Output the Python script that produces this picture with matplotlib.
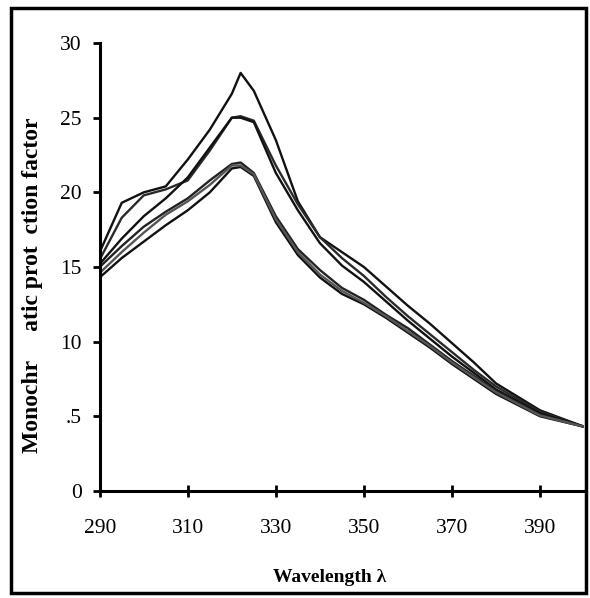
import matplotlib
matplotlib.use("Agg")
import matplotlib.pyplot as plt
from matplotlib.patches import Rectangle

# wavelengths (nm)
wl = [290, 295, 300, 305, 310, 315, 320, 322, 325, 330, 335, 340, 345, 350, 355, 360, 365, 370, 375, 380, 390, 400]

series_a = [16.0, 19.3, 20.0, 20.4, 22.2, 24.2, 26.6, 28.0, 26.8, 23.5, 19.4, 17.0, 16.0, 15.0, 13.7, 12.4, 11.2, 9.9, 8.6, 7.2, 5.4, 4.3]
series_b = [15.5, 18.3, 19.8, 20.2, 20.8, 22.8, 25.0, 25.1, 24.8, 21.8, 19.2, 17.0, 15.6, 14.4, 13.0, 11.7, 10.5, 9.3, 8.1, 7.0, 5.3, 4.3]
series_c = [15.2, 16.9, 18.4, 19.6, 21.0, 23.0, 25.0, 25.0, 24.7, 21.3, 18.8, 16.6, 15.1, 14.0, 12.7, 11.4, 10.2, 9.0, 7.9, 6.8, 5.2, 4.3]
series_d = [15.0, 16.4, 17.7, 18.7, 19.6, 20.8, 21.9, 22.0, 21.3, 18.4, 16.2, 14.8, 13.6, 12.8, 11.8, 10.9, 9.8, 8.7, 7.7, 6.7, 5.1, 4.3]
series_e = [14.3, 15.6, 16.7, 17.8, 18.8, 20.0, 21.6, 21.7, 21.1, 18.0, 15.8, 14.3, 13.2, 12.5, 11.6, 10.6, 9.6, 8.5, 7.5, 6.5, 5.0, 4.3]
series_f = [14.6, 16.0, 17.3, 18.5, 19.4, 20.5, 21.8, 21.8, 21.2, 18.2, 16.0, 14.5, 13.4, 12.6, 11.7, 10.7, 9.7, 8.6, 7.6, 6.6, 5.05, 4.3]

all_series = [series_a, series_b, series_c, series_d, series_e, series_f]
line_colors = ["#111111", "#2a2a2a", "#111111", "#222222", "#111111", "#555555"]

xticks = [290, 310, 330, 350, 370, 390]
yticks = [0, 5, 10, 15, 20, 25, 30]
ytick_labels = ["0", ".5", "10", "15", "20", "25", "30"]

plt.rcParams['font.family'] = ['Liberation Serif', 'DejaVu Serif']

fig = plt.figure(figsize=(5.9, 5.98), dpi=100)
ax = fig.add_axes([0.169, 0.179, 0.821, 0.749])

for s, c in zip(all_series, line_colors):
    ax.plot(wl, s, color=c, lw=1.7, solid_joinstyle='round', solid_capstyle='round')

ax.set_xlim(290, 400)
ax.set_ylim(0, 30)
ax.set_xticks(xticks)
ax.set_yticks(yticks)
ax.set_yticklabels(ytick_labels)
for sp in ["top", "right"]:
    ax.spines[sp].set_visible(False)
ax.spines["left"].set_linewidth(2.2)
ax.spines["bottom"].set_linewidth(2.2)
ax.tick_params(axis='x', direction='inout', length=8, width=2, labelsize=15.5, pad=16)
ax.tick_params(axis='y', direction='out', length=5, width=2, labelsize=15.5, pad=8)

ax.set_xlabel("Wavelength λ", fontsize=14, fontweight='bold')
ax.set_ylabel("Monochr     atic prot  ction factor", fontsize=17, fontweight='bold')
ax.yaxis.set_label_coords(-0.118, 0.46)
ax.xaxis.set_label_coords(0.475, -0.175)

fig.patches.append(Rectangle((0.018, 0.008), 0.975, 0.978, transform=fig.transFigure,
                             fill=False, edgecolor='black', lw=2.5))

fig.savefig("out.png", dpi=100)
